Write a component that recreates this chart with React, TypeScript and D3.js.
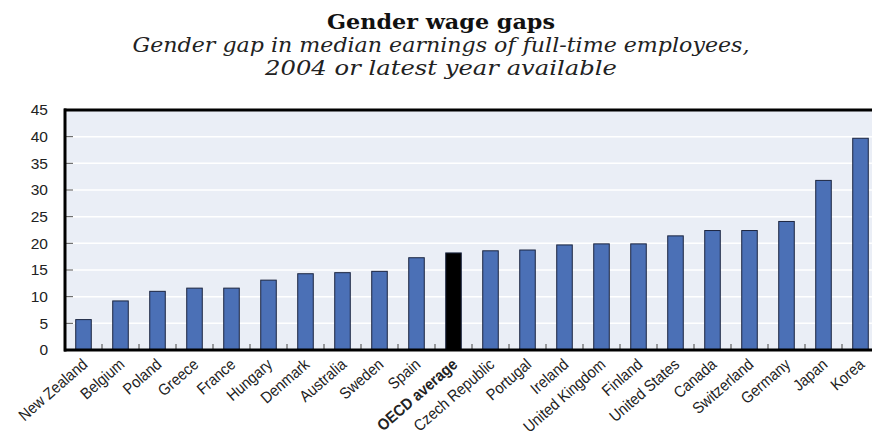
import React from "react";
import * as d3 from "d3";

const categories = [
  "New Zealand", "Belgium", "Poland", "Greece", "France", "Hungary", "Denmark",
  "Australia", "Sweden", "Spain", "OECD average", "Czech Republic", "Portugal",
  "Ireland", "United Kingdom", "Finland", "United States", "Canada",
  "Switzerland", "Germany", "Japan", "Korea",
];
const values = [
  5.7, 9.2, 11.0, 11.6, 11.6, 13.1, 14.3, 14.5, 14.75, 17.3, 18.2, 18.6, 18.75,
  19.7, 19.9, 19.9, 21.4, 22.4, 22.4, 24.1, 31.8, 39.7,
];
const highlight = "OECD average";
const yTicks = [0, 5, 10, 15, 20, 25, 30, 35, 40, 45];
const title = "Gender wage gaps";
const subtitleLines = [
  "Gender gap in median earnings of full-time employees,",
  "2004 or latest year available",
];

const W = 872;
const H = 440;
const left = 65;
const top = 110;
const bottom = 350;
const step = 37;

export default function App() {
  const x = d3
    .scaleBand<string>()
    .domain(categories)
    .range([left, left + step * categories.length])
    .paddingInner(0.58)
    .paddingOuter(0.29);
  const y = d3.scaleLinear().domain([0, 45]).range([bottom, top]);
  const bw = x.bandwidth();

  return (
    <svg
      width={W}
      height={H}
      style={{ position: "fixed", left: 0, top: 0, background: "#fff" }}
    >
      {/* titles */}
      <text
        x={441}
        y={29}
        textAnchor="middle"
        fontFamily="DejaVu Serif"
        fontWeight="bold"
        fontSize={20}
        textLength={228}
        lengthAdjust="spacingAndGlyphs"
        fill="#111"
      >
        {title}
      </text>
      {subtitleLines.map((s, i) => (
        <text
          key={i}
          x={441}
          y={52 + i * 23}
          textAnchor="middle"
          fontFamily="DejaVu Serif"
          fontStyle="italic"
          fontSize={20}
          textLength={i === 0 ? 617 : 352}
          lengthAdjust="spacingAndGlyphs"
          fill="#222"
        >
          {s}
        </text>
      ))}

      {/* plot background */}
      <rect x={left} y={top} width={W - left} height={bottom - top} fill="#eaeef6" />
      {yTicks.slice(1, -1).map((t) => (
        <g key={t}>
          <line x1={left} x2={W} y1={y(t)} y2={y(t)} stroke="#ffffff" strokeWidth={1.5} />
          <line x1={left} x2={left + 8} y1={y(t)} y2={y(t)} stroke="#555" strokeWidth={1} />
        </g>
      ))}

      {/* bars */}
      {categories.map((c, i) => (
        <rect
          key={c}
          x={x(c)!}
          y={y(values[i])}
          width={bw}
          height={bottom - y(values[i])}
          fill={c === highlight ? "#000000" : "#4b70b6"}
          stroke="#1b2540"
          strokeWidth={1}
        />
      ))}

      {/* category separators */}
      {categories.slice(1).map((c, i) => {
        const xx = left + step * (i + 1);
        return (
          <line key={c} x1={xx} x2={xx} y1={bottom} y2={bottom - 6} stroke="#444" strokeWidth={1} />
        );
      })}

      {/* frame */}
      <line x1={left - 1} x2={W} y1={top} y2={top} stroke="#000" strokeWidth={3} />
      <line x1={left - 1} x2={W} y1={bottom} y2={bottom} stroke="#000" strokeWidth={3} />
      <line x1={left} x2={left} y1={top - 1.5} y2={bottom + 1.5} stroke="#000" strokeWidth={3} />

      {/* y labels */}
      {yTicks.map((t) => (
        <text
          key={t}
          x={48}
          y={y(t)}
          dy="0.35em"
          textAnchor="end"
          fontFamily="Liberation Sans, Arial, sans-serif"
          fontSize={15.5}
          fill="#222"
        >
          {t}
        </text>
      ))}

      {/* x labels */}
      {categories.map((c) => {
        const cx = x(c)! + bw / 2;
        return (
          <text
            key={c}
            transform={`translate(${cx + 5},${bottom + 16}) rotate(-41) scale(0.9,1)`}
            textAnchor="end"
            fontFamily="Liberation Sans, Arial, sans-serif"
            fontWeight={c === highlight ? "bold" : "normal"}
            fontSize={16}
            fill="#222"
          >
            {c}
          </text>
        );
      })}
    </svg>
  );
}
